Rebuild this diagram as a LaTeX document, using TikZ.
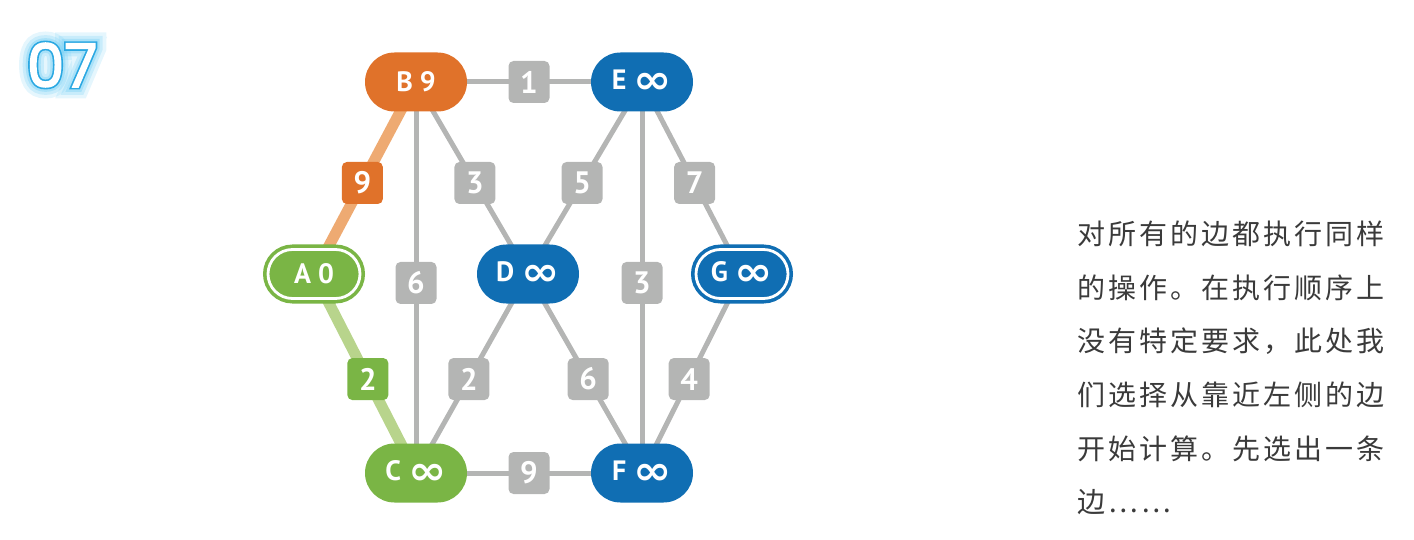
\documentclass[tikz,border=0pt]{standalone}
\usepackage{graphicx}
\usepackage{fontspec}
\setmainfont{PT Sans}
\newfontfamily\labf{PT Sans}
\newfontfamily\inff{DejaVu Sans}
\newfontfamily\cjk[LetterSpace=11]{Noto Sans CJK SC}
\newfontfamily\titlef[FakeBold=2.5]{Poppins}
\newfontfamily\titleo[FakeBold=8]{Poppins}
\newfontfamily\titlega[FakeBold=16]{Poppins}
\newfontfamily\titlegb[FakeBold=26]{Poppins}
\newfontfamily\titlegc[FakeBold=38]{Poppins}
\definecolor{orangec}{HTML}{E0722A}
\definecolor{orangel}{HTML}{EEAA72}
\definecolor{greenc}{HTML}{7AB545}
\definecolor{greenl}{HTML}{B8D48C}
\definecolor{bluec}{HTML}{106EB3}
\definecolor{grayc}{HTML}{B4B5B4}
\definecolor{textc}{HTML}{3A3A3A}
\definecolor{outc}{HTML}{2AA8E2}
\definecolor{glowc}{HTML}{6FCDF4}
\newcommand\infsym{\raisebox{-4pt}{\scalebox{1.15}[1]{\inff\fontsize{40}{40}\selectfont ∞}}}
\pgfdeclarelayer{bg}
\pgfsetlayers{bg,main}
\tikzset{
  vtx/.style={rectangle, rounded corners=29.5, minimum width=102, minimum height=59,
    inner sep=0, text=white, font=\labf\bfseries\fontsize{28}{28}\selectfont},
  ring/.style={vtx, minimum width=92, minimum height=49, rounded corners=24.5,
    fill=#1, draw=white, line width=2.8, preaction={draw=#1, line width=10}},
  gedge/.style={draw=grayc, line width=5},
  cedge/.style={draw=#1, line width=11},
  lbl/.style={rectangle, fill=grayc, rounded corners=5, minimum width=41, minimum height=42,
    inner sep=0, text=white, font=\labf\bfseries\fontsize{31}{31}\selectfont},
  ttl/.style={inner sep=0},
  para/.style={anchor=west, inner sep=0, text=textc, font=\cjk\fontsize{28}{28}\selectfont}
}
\begin{document}
\begin{tikzpicture}[x=1pt,y=-1pt]
\useasboundingbox (0,0) rectangle (1414,540);
% title with glow
\node[ttl, text=glowc, text opacity=0.18, font=\titlegc\fontsize{60}{60}\selectfont] (g3) at (62,65) {07};
\node[ttl, text=glowc, text opacity=0.25, font=\titlegb\fontsize{60}{60}\selectfont] (g2) at (62,65) {07};
\node[ttl, text=glowc, text opacity=0.35, font=\titlega\fontsize{60}{60}\selectfont] (g1) at (62,65) {07};
\node[ttl, text=outc, font=\titleo\fontsize{60}{60}\selectfont] (g0) at (62,65) {07};
\node[ttl, text=white, font=\titlef\fontsize{60}{60}\selectfont] (title) at (62,65) {07};
% vertices
\node[vtx, fill=orangec] (B) at (416,82) {B 9};
\node[vtx, fill=bluec] (E) at (642,82) {E \infsym};
\node[ring=greenc] (A) at (314,274) {A 0};
\node[vtx, fill=bluec] (D) at (528,274) {D \infsym};
\node[ring=bluec] (G) at (742,274) {G \infsym};
\node[vtx, fill=greenc] (C) at (416,473) {C \infsym};
\node[vtx, fill=bluec] (F) at (642,473) {F \infsym};
% edges
\begin{pgfonlayer}{bg}
\draw[gedge] (B.center) -- node[lbl] (wBE) {1} (E.center);
\draw[cedge=orangel] (B.center) -- node[lbl, fill=orangec, pos=.526] (wBA) {9} (A.center);
\draw[gedge] (B.center) -- node[lbl, pos=.526] (wBD) {3} (D.center);
\draw[gedge] (B.center) -- node[lbl, pos=.514] (wBC) {6} (C.center);
\draw[gedge] (E.center) -- node[lbl, pos=.526] (wED) {5} (D.center);
\draw[gedge] (E.center) -- node[lbl, pos=.514] (wEF) {3} (F.center);
\draw[gedge] (E.center) -- node[lbl, pos=.526] (wEG) {7} (G.center);
\draw[cedge=greenl] (A.center) -- node[lbl, fill=greenc, pos=.528] (wAC) {2} (C.center);
\draw[gedge] (D.center) -- node[lbl, pos=.528] (wDC) {2} (C.center);
\draw[gedge] (D.center) -- node[lbl, pos=.528] (wDF) {6} (F.center);
\draw[gedge] (G.center) -- node[lbl, pos=.528] (wGF) {4} (F.center);
\draw[gedge] (C.center) -- node[lbl] (wCF) {9} (F.center);
\end{pgfonlayer}
% text
\node[para] (p1) at (1077,234) {对所有的边都执行同样};
\node[para] (p2) at (1077,287.6) {的操作。在执行顺序上};
\node[para] (p3) at (1077,341.2) {没有特定要求，此处我};
\node[para] (p4) at (1077,394.8) {们选择从靠近左侧的边};
\node[para] (p5) at (1077,448.4) {开始计算。先选出一条};
\node[para] (p6) at (1077,502) {边……};
\end{tikzpicture}
\end{document}
